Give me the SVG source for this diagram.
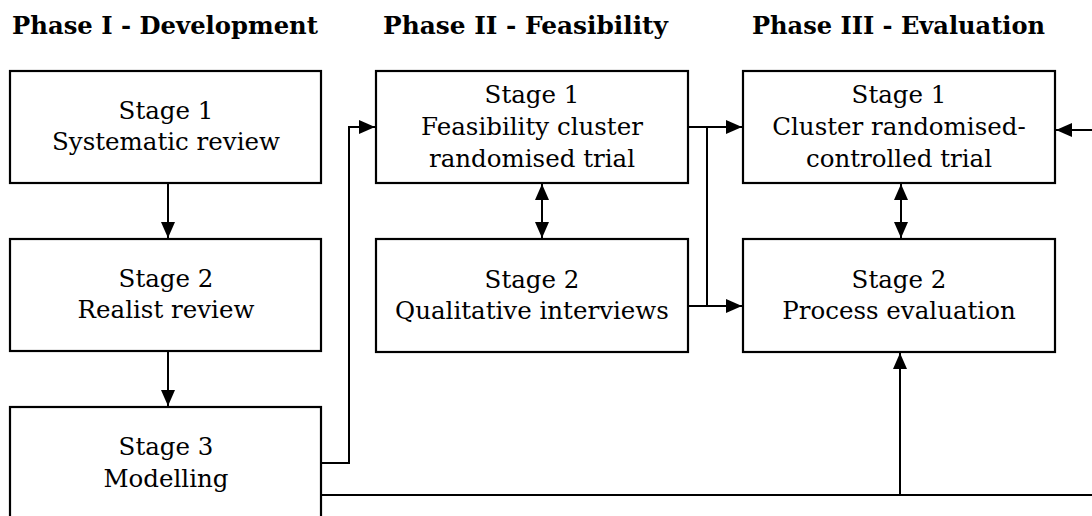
<svg xmlns="http://www.w3.org/2000/svg" width="1092" height="516" viewBox="0 0 1092 516">
  <style>
    .box { fill: #ffffff; stroke: #000000; stroke-width: 2.2; }
    .lbl { font-family: "DejaVu Serif", "Liberation Serif", serif; font-size: 24.5px; fill: #000000; text-anchor: middle; }
    .hdr { font-family: "DejaVu Serif", "Liberation Serif", serif; font-size: 24.4px; font-weight: bold; fill: #000000; }
    .wire { fill: none; stroke: #000000; stroke-width: 2; }
  </style>
  <defs>
    <marker id="tip" viewBox="0 0 16 14" refX="16" refY="7" markerWidth="16" markerHeight="14" markerUnits="userSpaceOnUse" orient="auto-start-reverse">
      <path d="M0,0 L16,7 L0,14 Z" fill="#000000"/>
    </marker>
  </defs>

  <!-- phase headings -->
  <g id="headings">
    <text class="hdr" x="12" y="34" textLength="306" lengthAdjust="spacingAndGlyphs">Phase I - Development</text>
    <text class="hdr" x="383" y="34" textLength="285" lengthAdjust="spacingAndGlyphs">Phase II - Feasibility</text>
    <text class="hdr" x="752" y="34" textLength="293" lengthAdjust="spacingAndGlyphs">Phase III - Evaluation</text>
  </g>

  <!-- connectors -->
  <g id="connectors">
    <line class="wire" x1="168" y1="183" x2="168" y2="238" marker-end="url(#tip)"/>
    <line class="wire" x1="168" y1="352" x2="168" y2="406" marker-end="url(#tip)"/>
    <polyline class="wire" points="321,463 349,463 349,127 375,127" marker-end="url(#tip)"/>
    <line class="wire" x1="542" y1="184" x2="542" y2="238" marker-start="url(#tip)" marker-end="url(#tip)"/>
    <line class="wire" x1="688" y1="127" x2="742" y2="127" marker-end="url(#tip)"/>
    <polyline class="wire" points="688,306 707,306 707,127"/>
    <line class="wire" x1="707" y1="306" x2="742" y2="306" marker-end="url(#tip)"/>
    <line class="wire" x1="901" y1="184" x2="901" y2="238" marker-start="url(#tip)" marker-end="url(#tip)"/>
    <line class="wire" x1="321" y1="495" x2="1092" y2="495"/>
    <line class="wire" x1="900" y1="495" x2="900" y2="353" marker-end="url(#tip)"/>
    <line class="wire" x1="1092" y1="130" x2="1056" y2="130" marker-end="url(#tip)"/>
  </g>

  <!-- Phase I nodes -->
  <g id="p1-stage1">
    <rect class="box" x="10" y="71" width="311" height="112"/>
    <text class="lbl" x="166" y="119">Stage 1</text>
    <text class="lbl" x="166" y="150">Systematic review</text>
  </g>
  <g id="p1-stage2">
    <rect class="box" x="10" y="239" width="311" height="112"/>
    <text class="lbl" x="166" y="287">Stage 2</text>
    <text class="lbl" x="166" y="318">Realist review</text>
  </g>
  <g id="p1-stage3">
    <rect class="box" x="10" y="407" width="311" height="120"/>
    <text class="lbl" x="166" y="455">Stage 3</text>
    <text class="lbl" x="166" y="487">Modelling</text>
  </g>

  <!-- Phase II nodes -->
  <g id="p2-stage1">
    <rect class="box" x="376" y="71" width="312" height="112"/>
    <text class="lbl" x="532" y="103">Stage 1</text>
    <text class="lbl" x="532" y="135">Feasibility cluster</text>
    <text class="lbl" x="532" y="167">randomised trial</text>
  </g>
  <g id="p2-stage2">
    <rect class="box" x="376" y="239" width="312" height="113"/>
    <text class="lbl" x="532" y="288">Stage 2</text>
    <text class="lbl" x="532" y="319">Qualitative interviews</text>
  </g>

  <!-- Phase III nodes -->
  <g id="p3-stage1">
    <rect class="box" x="743" y="71" width="312" height="112"/>
    <text class="lbl" x="899" y="103">Stage 1</text>
    <text class="lbl" x="899" y="135">Cluster randomised-</text>
    <text class="lbl" x="899" y="167">controlled trial</text>
  </g>
  <g id="p3-stage2">
    <rect class="box" x="743" y="239" width="312" height="113"/>
    <text class="lbl" x="899" y="288">Stage 2</text>
    <text class="lbl" x="899" y="319">Process evaluation</text>
  </g>
</svg>
